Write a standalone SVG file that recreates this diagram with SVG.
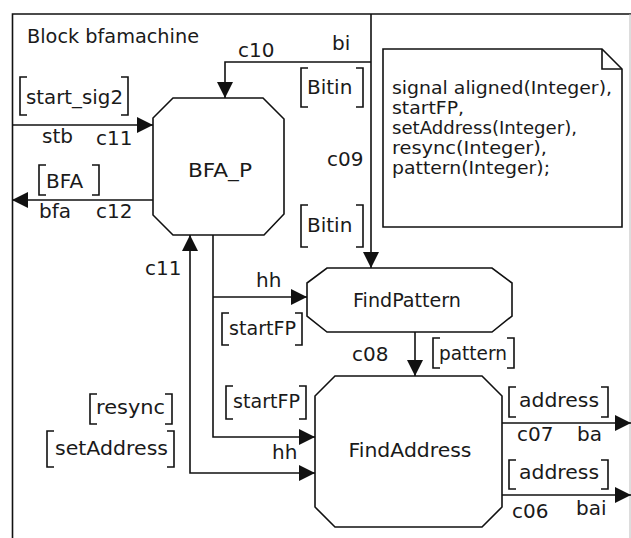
<svg xmlns="http://www.w3.org/2000/svg" width="631" height="538" viewBox="0 0 631 538">
<style>
  .ln{fill:none;stroke:#111;stroke-width:1.6}
  .sh{fill:#fff;stroke:#111;stroke-width:1.6}
  .br{fill:none;stroke:#111;stroke-width:1.6}
  text{font-family:"DejaVu Sans","Liberation Sans",sans-serif;font-size:20px;fill:#1a1a1a}
  .nt{font-size:17px}
  .c{text-anchor:middle}
</style>
<defs>
  <marker id="ah" viewBox="0 0 16 16" refX="16" refY="8" markerWidth="16" markerHeight="16" markerUnits="userSpaceOnUse" orient="auto-start-reverse">
    <path d="M0,0 L16,8 L0,16 Z" fill="#111"/>
  </marker>
</defs>
<rect x="0" y="0" width="631" height="538" fill="#fff"/>
<g id="frame">
  <path class="ln" d="M12.5 538 V14 H631"/>
  <line x1="630" y1="14" x2="630" y2="538" stroke="#bbb" stroke-width="1"/>
  <text x="27" y="43" textLength="172" lengthAdjust="spacingAndGlyphs">Block bfamachine</text>
</g>
<g id="note">
  <path class="sh" d="M383 49 H602 L622 69 V227 H383 Z"/>
  <path class="ln" d="M602 49 V69 H622"/>
  <text class="nt" x="392" y="94" textLength="220" lengthAdjust="spacingAndGlyphs">signal aligned(Integer),</text>
  <text class="nt" x="392" y="114" textLength="72" lengthAdjust="spacingAndGlyphs">startFP,</text>
  <text class="nt" x="392" y="134" textLength="185" lengthAdjust="spacingAndGlyphs">setAddress(Integer),</text>
  <text class="nt" x="392" y="154" textLength="155" lengthAdjust="spacingAndGlyphs">resync(Integer),</text>
  <text class="nt" x="392" y="174" textLength="158" lengthAdjust="spacingAndGlyphs">pattern(Integer);</text>
</g>
<g id="connectors">
  <path class="ln" d="M371 14 V268" marker-end="url(#ah)"/>
  <path class="ln" d="M371 62 H225 V98" marker-end="url(#ah)"/>
  <path class="ln" d="M12 125 H153" marker-end="url(#ah)"/>
  <path class="ln" d="M153 200 H12" marker-end="url(#ah)"/>
  <path class="ln" d="M315 473 H190 V235" marker-start="url(#ah)" marker-end="url(#ah)"/>
  <path class="ln" d="M213 235 V437 H315" marker-end="url(#ah)"/>
  <path class="ln" d="M213 297 H307" marker-end="url(#ah)"/>
  <path class="ln" d="M415 332 V376" marker-end="url(#ah)"/>
  <path class="ln" d="M502 423 H631" marker-end="url(#ah)"/>
  <path class="ln" d="M502 495 H631" marker-end="url(#ah)"/>
  <text x="332" y="50">bi</text>
  <text x="238" y="57">c10</text>
  <path class="br" d="M308 68 H301 V107 H308 M356 68 H363 V107 H356"/>
  <text x="307" y="94">Bitin</text>
  <text x="327" y="166">c09</text>
  <path class="br" d="M308 205 H301 V247 H308 M356 205 H363 V247 H356"/>
  <text x="307" y="232">Bitin</text>
  <path class="br" d="M27 77 H20 V115 H27 M121 77 H128 V115 H121"/>
  <text x="26" y="104" textLength="97" lengthAdjust="spacingAndGlyphs">start_sig2</text>
  <text x="42" y="143">stb</text>
  <text x="96" y="145">c11</text>
  <path class="br" d="M46 165 H39 V195 H46 M92 165 H99 V195 H92"/>
  <text x="46" y="188">BFA</text>
  <text x="39" y="218">bfa</text>
  <text x="96" y="218">c12</text>
  <text x="145" y="275">c11</text>
  <text x="256" y="287">hh</text>
  <path class="br" d="M229 313 H222 V345 H229 M295 313 H302 V345 H295"/>
  <text x="229" y="335" textLength="67" lengthAdjust="spacingAndGlyphs">startFP</text>
  <path class="br" d="M233 386 H226 V419 H233 M299 386 H306 V419 H299"/>
  <text x="233" y="408" textLength="67" lengthAdjust="spacingAndGlyphs">startFP</text>
  <path class="br" d="M97 394 H90 V424 H97 M165 394 H172 V424 H165"/>
  <text x="96" y="414" textLength="69" lengthAdjust="spacingAndGlyphs">resync</text>
  <path class="br" d="M54 431 H47 V467 H54 M167 431 H174 V467 H167"/>
  <text x="55" y="455" textLength="113" lengthAdjust="spacingAndGlyphs">setAddress</text>
  <text x="272" y="459">hh</text>
  <text x="352" y="361">c08</text>
  <path class="br" d="M440 338 H433 V368 H440 M507 338 H514 V368 H507"/>
  <text x="439" y="360" textLength="68" lengthAdjust="spacingAndGlyphs">pattern</text>
  <path class="br" d="M516 387 H509 V417 H516 M601 387 H608 V417 H601"/>
  <text x="519" y="407" textLength="80" lengthAdjust="spacingAndGlyphs">address</text>
  <text x="517" y="441">c07</text>
  <text x="577" y="441">ba</text>
  <path class="br" d="M516 460 H509 V489 H516 M601 460 H608 V489 H601"/>
  <text x="519" y="479" textLength="80" lengthAdjust="spacingAndGlyphs">address</text>
  <text x="512" y="518">c06</text>
  <text x="576" y="515">bai</text>
</g>
<g id="BFA_P">
  <polygon class="sh" points="173,98 263,98 284,119 284,214 264,235 173,235 153,215 153,118"/>
  <text class="c" x="220" y="177" textLength="64" lengthAdjust="spacingAndGlyphs">BFA_P</text>
</g>
<g id="FindPattern">
  <polygon class="sh" points="327,268 492,268 512,283 512,316 492,332 327,332 307,316 307,283"/>
  <text class="c" x="407" y="307" textLength="108" lengthAdjust="spacingAndGlyphs">FindPattern</text>
</g>
<g id="FindAddress">
  <polygon class="sh" points="335,376 482,376 502,396 502,507 482,527 335,527 315,507 315,396"/>
  <text class="c" x="410" y="457" textLength="123" lengthAdjust="spacingAndGlyphs">FindAddress</text>
</g>
</svg>
